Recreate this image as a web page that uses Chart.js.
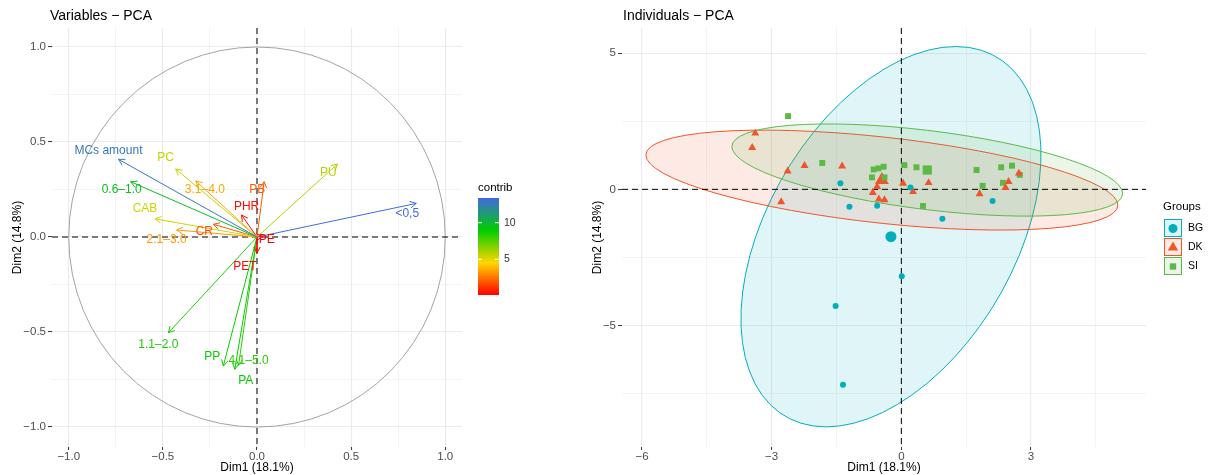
<!DOCTYPE html>
<html>
<head>
<meta charset="utf-8">
<script src="https://cdn.jsdelivr.net/npm/chart.js@4.4.1/dist/chart.umd.min.js"></script>
<style>
  body { margin: 0; background: #fff; width: 1213px; height: 475px; position: relative; overflow: hidden; }
  #varChart { position: absolute; left: 0; top: 0; }
  #indChart { position: absolute; left: 580px; top: 0; }
</style>
</head>
<body>
<canvas id="varChart" width="580" height="475"></canvas>
<canvas id="indChart" width="633" height="475"></canvas>
<script>
// ---- Variables PCA (correlation circle) ----
const varNames   = ['MCs amount', 'PC', '0.6–1.0', '3.1–4.0', 'CAB', '2.1–3.0', 'CR', 'PHR', 'PB', 'PU', '<0,5', 'PE', 'PET', '1.1–2.0', 'PP', '4.1–5.0', 'PA'];
const varDim1    = [-0.736, -0.432, -0.671, -0.325, -0.542, -0.427, -0.232, -0.082, 0.038, 0.427, 0.846, 0.030, 0.000, -0.471, -0.179, -0.098, -0.118];
const varDim2    = [ 0.409,  0.358,  0.291,  0.295,  0.096,  0.037,  0.067,  0.116, 0.291, 0.384, 0.177, 0.003, -0.084, -0.504, -0.679, -0.675, -0.696];
const varContrib = [12.7, 5.6, 9.6, 3.5, 5.4, 3.3, 1.8, 0.4, 2.0, 5.9, 13.37, 0.13, 0.25, 8.5, 8.8, 8.3, 8.9];
const contribRange  = [0.13, 13.37];
const contribBreaks = [5, 10];

const varTicks      = [-1, -0.5, 0, 0.5, 1];
const varTickLabels = ['−1.0', '−0.5', '0.0', '0.5', '1.0'];
const varMinorTicks = [-0.75, -0.25, 0.25, 0.75];

// ---- Individuals PCA ----
const groups   = ['BG', 'DK', 'SI'];
const bgDim1 = [-1.41, -1.20, -0.56, 0.21, 0.95, 2.11, 0.01, -1.52, -1.35];
const bgDim2 = [ 0.22, -0.64, -0.60, 0.07, -1.08, -0.43, -3.19, -4.29, -7.18];
const dkDim1 = [-3.38, -3.45, -2.63, -2.24, -1.37, -2.78, -0.66, -0.52, -0.39, -0.56, 0.04, 0.27, 0.63, 1.81, 2.41, 2.48, 2.72];
const dkDim2 = [ 2.06,  1.53,  0.67,  0.87,  0.85, -0.46, -0.12, -0.36, -0.39,  0.10, 0.22, -0.09, 0.24, -0.17, 0.06, 0.28, 0.59];
const siDim1 = [-2.62, -1.83, -0.64, -0.53, -0.41, -0.68, -0.39, 0.07, 0.35, 0.50, 1.74, 2.31, 2.56, 1.88, 2.35, 2.74];
const siDim2 = [ 2.69,  0.97,  0.73,  0.77,  0.83,  0.44,  0.44, 0.89, 0.81, -0.61, 0.71, 0.81, 0.87, 0.13, 0.24, 0.53];
const meanDim1 = [-0.24, -0.45, 0.60];
const meanDim2 = [-1.74,  0.34, 0.71];
// confidence ellipses: two conjugate semi-axes (Dim1, Dim2) per group
const ellAx = [1.50, -5.46, -4.52];
const ellAy = [6.99,  0.92,  0.86];
const ellBx = [3.13,  0.00,  0.00];
const ellBy = [0.00,  1.59,  1.46];

const indXTicks      = [-6, -3, 0, 3];
const indXTickLabels = ['−6', '−3', '0', '3'];
const indXMinor      = [-4.5, -1.5, 1.5, 4.5];
const indYTicks      = [-5, 0, 5];
const indYTickLabels = ['−5', '0', '5'];
const indYMinor      = [-7.5, -2.5, 2.5];

// ---- styles ----
const FONT = '"Liberation Sans", Arial, sans-serif';
const contribCols = ['#FF0000', '#FFD700', '#00CD00', '#4169E1'];
const groupCols  = ['#00AFBB', '#F0542A', '#5CB946'];
const groupFill  = ['rgba(0,175,187,0.12)', 'rgba(240,84,42,0.12)', 'rgba(92,185,70,0.12)'];
const labelOffsets = [[-10,-9],[-10,-11],[-9,8],[9,9],[-10,-10],[-10,10],[-9,7],[5,-8],[-7,8],[-9,9],[-9,10],[4,3],[-12,14],[-10,12],[-11,-9],[10,-5],[11,11]];

Chart.defaults.font.family = FONT;

function hexRgb(h) { return [1, 3, 5].map(i => parseInt(h.substr(i, 2), 16)); }
function contribColor(v) {
  let t = (v - contribRange[0]) / (contribRange[1] - contribRange[0]);
  t = Math.max(0, Math.min(1, t));
  const n = contribCols.length - 1;
  const k = Math.min(n - 1, Math.floor(t * n));
  const f = t * n - k;
  const a = hexRgb(contribCols[k]), b = hexRgb(contribCols[k + 1]);
  const c = a.map((x, i) => Math.round(x + (b[i] - x) * f));
  return 'rgb(' + c.join(',') + ')';
}

function axis(min, max, majors, labels, minors, isX, size) {
  const all = majors.concat(minors).sort((a, b) => a - b);
  const isMaj = v => majors.some(m => Math.abs(m - v) < 1e-9);
  return {
    type: 'linear', min: min, max: max,
    afterBuildTicks: s => { s.ticks = all.map(v => ({ value: v })); },
    afterFit: s => { if (isX) s.height = size; else s.width = size; },
    ticks: {
      autoSkip: false, maxRotation: 0, padding: isX ? 0 : 2,
      color: '#4D4D4D', font: { size: 11.5 },
      callback: v => { const i = majors.findIndex(m => Math.abs(m - v) < 1e-9); return i < 0 ? '' : labels[i]; }
    },
    grid: {
      color: '#EBEBEB',
      lineWidth: c => (c.tick && isMaj(c.tick.value)) ? 1.1 : 0.6,
      tickColor: c => (c.tick && isMaj(c.tick.value)) ? '#333333' : 'rgba(0,0,0,0)',
      tickLength: isX ? 3 : 4, tickWidth: 1
    },
    border: { display: false }
  };
}

function zeroLines(chart) {
  const { ctx, chartArea: a, scales: { x, y } } = chart;
  const px = x.getPixelForValue(0), py = y.getPixelForValue(0);
  ctx.save();
  ctx.strokeStyle = '#000'; ctx.lineWidth = 1; ctx.setLineDash([6, 4]);
  ctx.beginPath(); ctx.moveTo(px, a.top); ctx.lineTo(px, a.bottom); ctx.stroke();
  ctx.beginPath(); ctx.moveTo(a.left, py); ctx.lineTo(a.right, py); ctx.stroke();
  ctx.restore();
}

function axisTitles(chart, title, titleX) {
  const { ctx, chartArea: a } = chart;
  ctx.save();
  ctx.fillStyle = '#000'; ctx.textBaseline = 'middle';
  ctx.font = '14px ' + FONT; ctx.textAlign = 'left';
  ctx.fillText(title, titleX, 16);
  ctx.font = '12px ' + FONT; ctx.textAlign = 'center';
  ctx.fillText('Dim1 (18.1%)', (a.left + a.right) / 2, 468);
  ctx.translate(17.5, (a.top + a.bottom) / 2); ctx.rotate(-Math.PI / 2);
  ctx.fillText('Dim2 (14.8%)', 0, 0);
  ctx.restore();
}

// ---------- left chart ----------
const varPlugin = {
  id: 'varPlugin',
  beforeDatasetsDraw(chart) {
    const { ctx, scales: { x, y } } = chart;
    const cx = x.getPixelForValue(0), cy = y.getPixelForValue(0);
    ctx.save();
    ctx.strokeStyle = '#A3A3A3'; ctx.lineWidth = 1;
    ctx.beginPath();
    ctx.ellipse(cx, cy, x.getPixelForValue(1) - cx, cy - y.getPixelForValue(1), 0, 0, 2 * Math.PI);
    ctx.stroke();
    ctx.restore();
    zeroLines(chart);
  },
  afterDatasetsDraw(chart) {
    const { ctx, scales: { x, y } } = chart;
    const ox = x.getPixelForValue(0), oy = y.getPixelForValue(0);
    ctx.save();
    varNames.forEach((n, i) => {
      const ex = x.getPixelForValue(varDim1[i]), ey = y.getPixelForValue(varDim2[i]);
      const col = contribColor(varContrib[i]);
      const ang = Math.atan2(ey - oy, ex - ox);
      const len = Math.hypot(ex - ox, ey - oy);
      if (len > 3) {
        ctx.strokeStyle = col; ctx.lineWidth = 1;
        ctx.beginPath();
        [-0.5, 0.5].forEach(d => {
          ctx.moveTo(ex, ey);
          ctx.lineTo(ex - 7 * Math.cos(ang + d), ey - 7 * Math.sin(ang + d));
        });
        ctx.stroke();
      }
      ctx.fillStyle = col; ctx.font = '12px ' + FONT;
      ctx.textAlign = 'center'; ctx.textBaseline = 'middle';
      ctx.fillText(n, ex + labelOffsets[i][0], ey + labelOffsets[i][1]);
    });
    ctx.restore();
  },
  afterDraw(chart) {
    axisTitles(chart, 'Variables − PCA', 50);
    const ctx = chart.ctx;
    const bx = 478, bw = 21, top = 198, bot = 295;
    ctx.save();
    const g = ctx.createLinearGradient(0, bot, 0, top);
    contribCols.forEach((c, i) => g.addColorStop(i / (contribCols.length - 1), c));
    ctx.fillStyle = g; ctx.fillRect(bx, top, bw, bot - top);
    ctx.fillStyle = '#000'; ctx.font = '11.5px ' + FONT;
    ctx.textAlign = 'left'; ctx.textBaseline = 'middle';
    ctx.fillText('contrib', bx, 188);
    ctx.font = '10.5px ' + FONT; ctx.fillStyle = '#333';
    contribBreaks.forEach(b => {
      const py = bot - (b - contribRange[0]) / (contribRange[1] - contribRange[0]) * (bot - top);
      ctx.strokeStyle = '#fff'; ctx.lineWidth = 1;
      ctx.beginPath();
      ctx.moveTo(bx, py); ctx.lineTo(bx + 4, py);
      ctx.moveTo(bx + bw - 4, py); ctx.lineTo(bx + bw, py);
      ctx.stroke();
      ctx.fillText(String(b), bx + bw + 5, py);
    });
    ctx.restore();
  }
};

new Chart(document.getElementById('varChart'), {
  type: 'scatter',
  data: {
    datasets: varNames.map((n, i) => ({
      label: n,
      data: [{ x: 0, y: 0 }, { x: varDim1[i], y: varDim2[i] }],
      showLine: true,
      borderColor: contribColor(varContrib[i]),
      borderWidth: 1,
      pointRadius: 0
    }))
  },
  options: {
    responsive: false, animation: false, devicePixelRatio: 1, events: [],
    layout: { padding: { left: 0, right: 118, top: 28, bottom: 0 } },
    plugins: { legend: { display: false }, tooltip: { enabled: false } },
    scales: {
      x: axis(-1.089, 1.089, varTicks, varTickLabels, varMinorTicks, true, 28),
      y: axis(-1.105, 1.10, varTicks, varTickLabels, varMinorTicks, false, 52)
    }
  },
  plugins: [varPlugin]
});

// ---------- right chart ----------
function drawShape(ctx, k, x, y, r) {
  ctx.beginPath();
  if (k === 0) ctx.arc(x, y, r, 0, 2 * Math.PI);
  else if (k === 1) { ctx.moveTo(x, y - r); ctx.lineTo(x + r * 0.866, y + r * 0.5); ctx.lineTo(x - r * 0.866, y + r * 0.5); ctx.closePath(); }
  else { const s = r * 0.7071; ctx.rect(x - s, y - s, 2 * s, 2 * s); }
  ctx.fill();
}

const indPlugin = {
  id: 'indPlugin',
  beforeDatasetsDraw(chart) {
    const { ctx, chartArea: a, scales: { x, y } } = chart;
    const sx = x.getPixelForValue(1) - x.getPixelForValue(0);
    const sy = y.getPixelForValue(0) - y.getPixelForValue(1);
    ctx.save();
    ctx.beginPath(); ctx.rect(a.left, a.top, a.right - a.left, a.bottom - a.top); ctx.clip();
    groups.forEach((g, i) => {
      const cx = x.getPixelForValue(meanDim1[i]), cy = y.getPixelForValue(meanDim2[i]);
      ctx.save();
      ctx.beginPath();
      ctx.transform(ellAx[i] * sx, -ellAy[i] * sy, ellBx[i] * sx, -ellBy[i] * sy, cx, cy);
      ctx.arc(0, 0, 1, 0, 2 * Math.PI);
      ctx.restore();
      ctx.fillStyle = groupFill[i]; ctx.fill();
      ctx.strokeStyle = groupCols[i]; ctx.lineWidth = 1; ctx.stroke();
    });
    ctx.restore();
    zeroLines(chart);
  },
  afterDraw(chart) {
    axisTitles(chart, 'Individuals − PCA', 43);
    const ctx = chart.ctx;
    ctx.save();
    ctx.fillStyle = '#000'; ctx.font = '11.5px ' + FONT;
    ctx.textAlign = 'left'; ctx.textBaseline = 'middle';
    ctx.fillText('Groups', 583, 207);
    groups.forEach((g, i) => {
      const bx = 584, by = 219 + i * 19;
      ctx.fillStyle = '#fff'; ctx.fillRect(bx, by, 18, 18);
      ctx.fillStyle = groupFill[i]; ctx.fillRect(bx, by, 18, 18);
      ctx.strokeStyle = groupCols[i]; ctx.lineWidth = 1; ctx.strokeRect(bx + 0.5, by + 0.5, 17, 17);
      ctx.fillStyle = groupCols[i];
      drawShape(ctx, i, bx + 9, by + 9.5, i === 1 ? 6 : 4.5);
      ctx.fillStyle = '#000'; ctx.font = '10.5px ' + FONT;
      ctx.fillText(g, 608, by + 9);
    });
    ctx.restore();
  }
};

const toPts = (xs, ys) => xs.map((v, i) => ({ x: v, y: ys[i] }));
const shapes = ['circle', 'triangle', 'rect'];
const ptRadius = [3, 4.6, 4.2];
const meanRadius = [5.5, 8, 6.5];
const groupX = [bgDim1, dkDim1, siDim1], groupY = [bgDim2, dkDim2, siDim2];

const indDatasets = groups.map((g, i) => ({
  label: g, data: toPts(groupX[i], groupY[i]),
  pointStyle: shapes[i], pointRadius: ptRadius[i],
  backgroundColor: groupCols[i], borderWidth: 0
})).concat(groups.map((g, i) => ({
  label: g + ' mean', data: [{ x: meanDim1[i], y: meanDim2[i] }],
  pointStyle: shapes[i], pointRadius: meanRadius[i],
  backgroundColor: groupCols[i], borderWidth: 0
})));

new Chart(document.getElementById('indChart'), {
  type: 'scatter',
  data: { datasets: indDatasets },
  options: {
    responsive: false, animation: false, devicePixelRatio: 1, events: [],
    layout: { padding: { left: 0, right: 67, top: 28, bottom: 0 } },
    plugins: { legend: { display: false }, tooltip: { enabled: false } },
    scales: {
      x: axis(-6.462, 5.66, indXTicks, indXTickLabels, indXMinor, true, 28),
      y: axis(-9.47, 5.93, indYTicks, indYTickLabels, indYMinor, false, 42)
    }
  },
  plugins: [indPlugin]
});
</script>
</body>
</html>
